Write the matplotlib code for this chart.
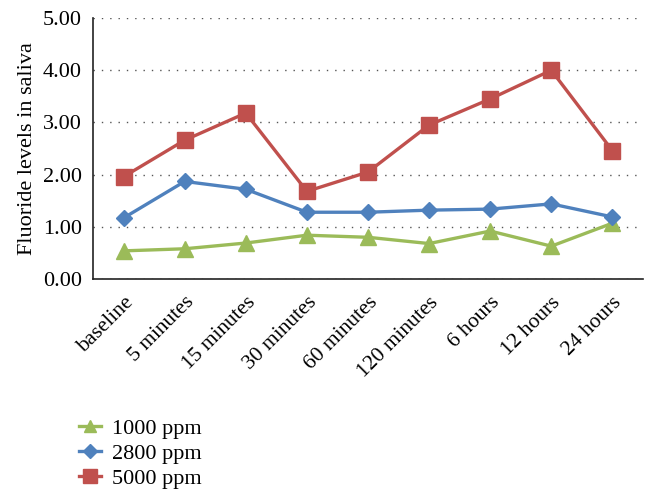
import matplotlib
matplotlib.use("Agg")
import matplotlib.pyplot as plt

# data
times = ["baseline", "5 minutes", "15 minutes", "30 minutes", "60 minutes",
         "120 minutes", "6 hours", "12 hours", "24 hours"]
ppm_1000 = [0.54, 0.58, 0.69, 0.84, 0.80, 0.68, 0.92, 0.63, 1.07]
ppm_2800 = [1.17, 1.87, 1.72, 1.28, 1.28, 1.32, 1.34, 1.44, 1.19]
ppm_5000 = [1.96, 2.66, 3.18, 1.68, 2.05, 2.95, 3.45, 4.00, 2.46]

plt.rcParams["font.family"] = ["Liberation Serif", "DejaVu Serif"]

fig = plt.figure(figsize=(6.57, 5.01), dpi=100)
ax = fig.add_axes([0.1416, 0.443, 0.837, 0.521])

x = [i + 0.5 for i in range(len(times))]
ax.plot(x, ppm_1000, color="#9BBB59", marker="^", markersize=11, lw=2.4, label="1000 ppm")
ax.plot(x, ppm_2800, color="#4F81BD", marker="D", markersize=8, lw=2.4, label="2800 ppm")
ax.plot(x, ppm_5000, color="#C0504D", marker="s", markersize=12, lw=2.4, label="5000 ppm")

ax.set_xlim(0, 9)
ax.set_ylim(0, 5)
ax.set_yticks([0, 1, 2, 3, 4, 5])
ax.set_yticklabels([f"{v:.2f}" for v in [0, 1, 2, 3, 4, 5]], fontsize=16)
ax.set_xticks(x)
ax.set_xticklabels(times, rotation=45, ha="right", rotation_mode="anchor", fontsize=15.5)
ax.tick_params(axis="y", length=0, pad=8)
ax.tick_params(axis="x", length=0, pad=10)
ax.set_ylabel("Fluoride levels in saliva", fontsize=16, labelpad=4)

ax.grid(axis="y", linestyle=(0, (1, 5)), color="#555555", lw=1)
ax.set_axisbelow(True)
for s in ["top", "right"]:
    ax.spines[s].set_visible(False)
ax.spines["left"].set_color("#222222")
ax.spines["bottom"].set_color("#222222")
ax.spines["left"].set_linewidth(1.2)
ax.spines["bottom"].set_linewidth(1.2)

fig.legend(loc="upper left", bbox_to_anchor=(0.09, 0.205), frameon=False,
           fontsize=16, handlelength=1.0, handletextpad=0.5, labelspacing=0.2,
           markerscale=0.85)

fig.savefig("out.png", dpi=100)
